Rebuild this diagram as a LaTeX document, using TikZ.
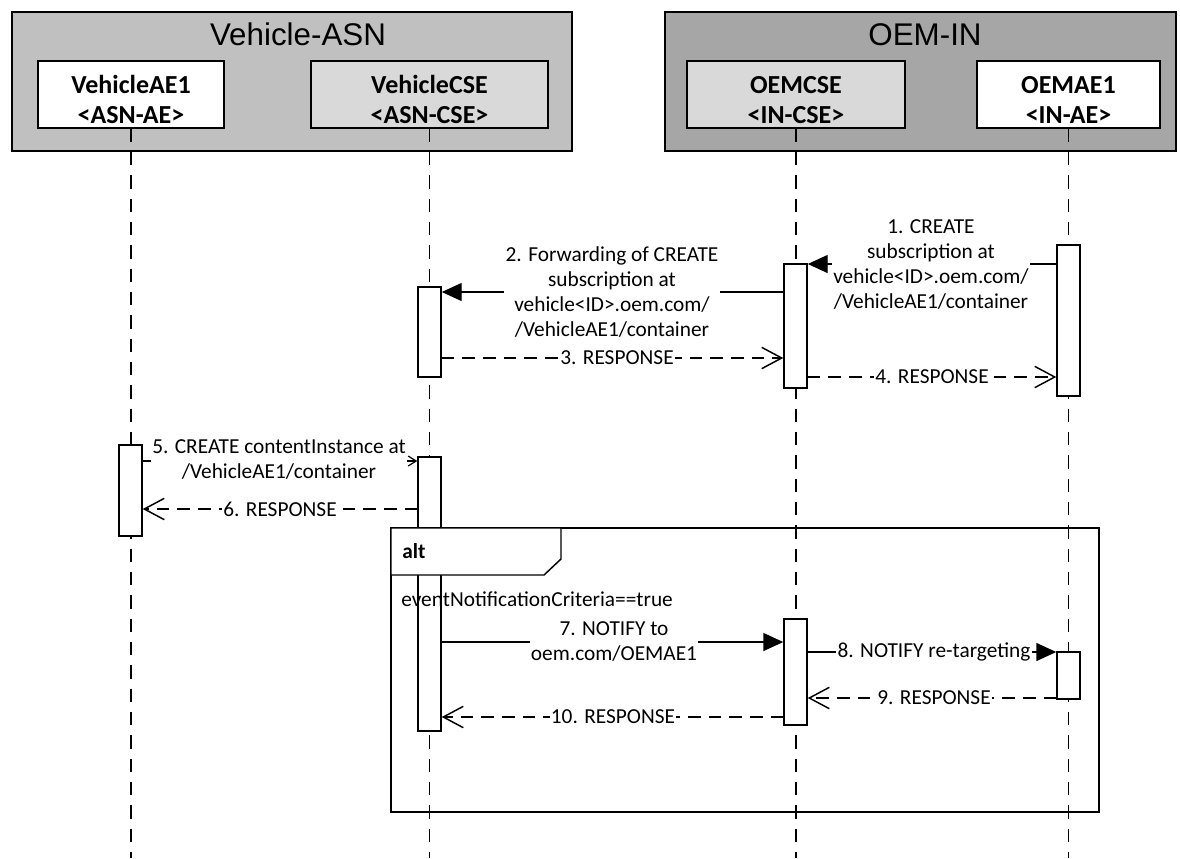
\documentclass[tikz,border=0pt]{standalone}
\usepackage{fontspec}
\setmainfont{Carlito}
\newfontfamily\titlefont{Liberation Sans}
\usepackage{xcolor}
\usetikzlibrary{arrows.meta,fit}

\definecolor{asngray}{RGB}{192,192,192}
\definecolor{ingray}{RGB}{166,166,166}
\definecolor{csegray}{RGB}{217,217,217}

\begin{document}
\begin{tikzpicture}[x=0.75pt,y=0.75pt,yscale=-1,xscale=1,
  group/.style={draw, line width=1.2pt, inner sep=0pt},
  grouptitle/.style={font=\titlefont\fontsize{23.5}{27}\selectfont, inner sep=0pt},
  part/.style={draw, fill=white, line width=1.1pt, inner sep=0pt},
  head/.style={align=center, inner sep=0pt, yshift=-4pt, font=\bfseries\fontsize{19.5}{22.5}\selectfont},
  lifeline/.style={line width=1pt, dash pattern=on 10pt off 7.5pt},
  act/.style={draw, fill=white, line width=1.1pt, inner sep=0pt},
  call/.style={line width=1.1pt, -{Triangle[length=15pt,width=13.5pt]}},
  reply/.style={line width=1.1pt, dash pattern=on 9.5pt off 6pt, -{Straight Barb[length=15pt,width=16pt]}},
  ask/.style={line width=0.9pt, -{Straight Barb[length=6pt,width=7.5pt]}},
  msg/.style={fill=white, inner sep=1pt, align=center, font=\fontsize{16}{18.75}\selectfont}
]
\useasboundingbox (0,0) rectangle (1180,858);

%Shape: Group frames
\node[group, fill=asngray, fit={(12,12) (572,151)}] (asn) {};
\node[group, fill=ingray, fit={(665,12) (1176,151)}] (in) {};
\node[grouptitle, anchor=base] (asnname) at (298,45) {Vehicle-ASN};
\node[grouptitle, anchor=base] (inname) at (925,45) {OEM-IN};

%Shape: Lifeline heads
\node[part, fit={(38,61) (224,128)}, label={[head]center:VehicleAE1\\<ASN-AE>}] (vae) {};
\node[part, fill=csegray, fit={(311,61) (548,128)}, label={[head]center:VehicleCSE\\<ASN-CSE>}] (vcse) {};
\node[part, fill=csegray, fit={(687,61) (905,128)}, label={[head]center:OEMCSE\\<IN-CSE>}] (ocse) {};
\node[part, fit={(977,61) (1160,128)}, label={[head]center:OEMAE1\\<IN-AE>}] (oae) {};

%Dashed Lines: lifelines
\foreach \h in {vae,vcse,ocse,oae}
  \draw[lifeline] (\h.south) -- (\h.south |- 0,858);

%Shape: Activations
\node[act, fit={(119,445) (142,536)}] (vact) {};
\node[act, fit={(418,287) (441,377)}] (cact1) {};
\node[act, fit={(418,457) (441,731)}] (cact2) {};
\node[act, fit={(784,264) (807,388)}] (oact1) {};
\node[act, fit={(784,619) (807,725)}] (oact2) {};
\node[act, fit={(1057,245) (1080,396)}] (eact1) {};
\node[act, fit={(1057,652) (1080,699)}] (eact2) {};

%Shape: alt frame
\draw[line width=1.1pt] (391,528) rectangle (1099,812);
\draw[line width=1.1pt, fill=white] (391,528) -- (561,528) -- (561,559) -- (544,575) -- (391,575) -- cycle;
\node[font=\bfseries\fontsize{16}{18}\selectfont, anchor=base west, inner sep=0pt] (alt) at (402,558) {alt};
\node[font=\fontsize{16}{18}\selectfont, anchor=base west, inner sep=0pt] (guard) at (401,606) {eventNotificationCriteria==true};

%Straight Lines: messages
\draw[call] (eact1.west |- 0,264) -- (oact1.east |- 0,264)
  node[msg] (m1) at (931,265) {1. CREATE\\subscription at\\vehicle<ID>.oem.com/\\/VehicleAE1/container};
\draw[call] (oact1.west |- 0,292) -- (cact1.east |- 0,292)
  node[msg] (m2) at (612,292) {2. Forwarding of CREATE\\subscription at\\vehicle<ID>.oem.com/\\/VehicleAE1/container};
\draw[reply] (cact1.east |- 0,358) -- (oact1.west |- 0,358)
  node[msg] (m3) at (617,358) {3. RESPONSE};
\draw[reply] (oact1.east |- 0,377) -- (eact1.west |- 0,377)
  node[msg] (m4) at (932,377) {4. RESPONSE};
\draw[ask] (vact.east |- 0,461) -- (cact2.west |- 0,461)
  node[msg] (m5) at (279,460) {5. CREATE contentInstance at\\/VehicleAE1/container};
\draw[reply] (cact2.west |- 0,509) -- (vact.east |- 0,509)
  node[msg] (m6) at (280,509) {6. RESPONSE};
\draw[call] (cact2.east |- 0,642) -- (oact2.west |- 0,642)
  node[msg] (m7) at (614,642) {7. NOTIFY to\\oem.com/OEMAE1};
\draw[call] (oact2.east |- 0,652) -- (eact2.west |- 0,652)
  node[msg] (m8) at (934,652) {8. NOTIFY re-targeting};
\draw[reply] (eact2.west |- 0,698) -- (oact2.east |- 0,698)
  node[msg] (m9) at (934,698) {9. RESPONSE};
\draw[reply] (oact2.west |- 0,717) -- (cact2.east |- 0,717)
  node[msg] (m10) at (613,717) {10. RESPONSE};

\end{tikzpicture}
\end{document}
